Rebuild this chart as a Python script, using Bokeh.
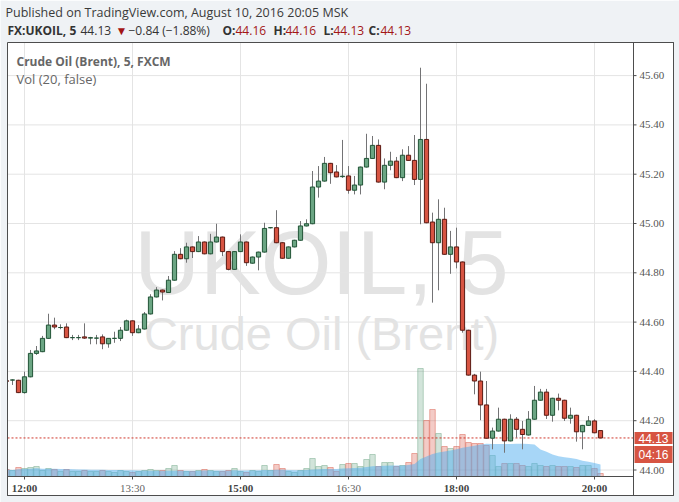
import pandas as pd
from bokeh.plotting import figure
from bokeh.models import ColumnDataSource, Range1d, Label, LabelSet, BoxAnnotation
from bokeh.embed import file_html
from bokeh.resources import INLINE

# ---------------- data (5-minute bars, x = bar number, 12:00 = 0) ----------------
bar_index = list(range(-3, 97))

opens = [44.362, 44.365, 44.364,
         44.314, 44.378, 44.473, 44.480, 44.534, 44.588, 44.578, 44.580, 44.537, 44.537,
         44.540, 44.535, 44.535, 44.540, 44.512, 44.534, 44.534, 44.567, 44.605, 44.557,
         44.572, 44.633, 44.702, 44.730, 44.720, 44.770, 44.875, 44.857, 44.905, 44.886,
         44.925, 44.877, 44.925, 44.945, 44.886, 44.814, 44.886, 44.925, 44.839, 44.864,
         44.884, 44.983, 44.983, 44.922, 44.859, 44.905, 44.932, 44.990, 44.999, 45.148,
         45.172, 45.244, 45.209, 45.190, 45.193, 45.135, 45.156, 45.229, 45.264, 45.317,
         45.168, 45.236, 45.253, 45.186, 45.277, 45.256, 45.179, 45.341, 45.006, 44.922,
         45.017, 44.875, 44.905, 44.844, 44.567, 44.385, 44.361, 44.264, 44.129, 44.158,
         44.206, 44.118, 44.206, 44.165, 44.142, 44.206, 44.283, 44.316, 44.222, 44.291,
         44.283, 44.210, 44.222, 44.155, 44.181, 44.199, 44.160]

highs = [44.365, 44.368, 44.366,
         44.399, 44.487, 44.503, 44.544, 44.634, 44.618, 44.591, 44.595, 44.548, 44.548,
         44.595, 44.540, 44.548, 44.550, 44.534, 44.561, 44.580, 44.610, 44.607, 44.588,
         44.641, 44.713, 44.742, 44.732, 44.787, 44.888, 44.900, 44.922, 44.907, 44.949,
         44.927, 44.958, 44.999, 44.947, 44.888, 44.888, 44.956, 44.927, 44.866, 44.886,
         45.003, 44.985, 45.054, 44.924, 44.907, 44.934, 45.010, 45.017, 45.213, 45.233,
         45.270, 45.246, 45.237, 45.339, 45.233, 45.193, 45.231, 45.364, 45.355, 45.341,
         45.264, 45.291, 45.270, 45.301, 45.314, 45.359, 45.632, 45.567, 45.044, 45.098,
         45.064, 44.970, 44.983, 44.846, 44.569, 44.390, 44.399, 44.361, 44.172, 44.253,
         44.208, 44.226, 44.215, 44.199, 44.239, 44.341, 44.329, 44.329, 44.293, 44.310,
         44.285, 44.253, 44.224, 44.183, 44.219, 44.206, 44.160]

lows = [44.355, 44.345, 44.312,
        44.310, 44.376, 44.467, 44.478, 44.532, 44.571, 44.571, 44.535, 44.527, 44.527,
        44.532, 44.510, 44.510, 44.490, 44.496, 44.516, 44.523, 44.565, 44.544, 44.555,
        44.570, 44.631, 44.700, 44.688, 44.718, 44.768, 44.855, 44.841, 44.860, 44.884,
        44.875, 44.875, 44.923, 44.868, 44.810, 44.812, 44.884, 44.828, 44.837, 44.810,
        44.882, 44.980, 44.920, 44.857, 44.857, 44.903, 44.930, 44.988, 44.997, 45.105,
        45.170, 45.161, 45.187, 45.185, 45.121, 45.118, 45.118, 45.227, 45.262, 45.166,
        45.139, 45.216, 45.184, 45.172, 45.254, 45.156, 44.997, 45.001, 44.679, 44.729,
        44.873, 44.796, 44.818, 44.557, 44.383, 44.307, 44.202, 44.127, 44.084, 44.156,
        44.070, 44.116, 44.131, 44.084, 44.140, 44.204, 44.281, 44.207, 44.196, 44.242,
        44.199, 44.188, 44.115, 44.084, 44.179, 44.149, 44.130]

closes = [44.360, 44.365, 44.314,
          44.378, 44.473, 44.483, 44.534, 44.588, 44.580, 44.578, 44.537, 44.537, 44.537,
          44.535, 44.537, 44.535, 44.512, 44.534, 44.534, 44.567, 44.605, 44.557, 44.572,
          44.633, 44.702, 44.730, 44.722, 44.770, 44.875, 44.857, 44.905, 44.886, 44.925,
          44.877, 44.925, 44.945, 44.886, 44.814, 44.886, 44.925, 44.841, 44.864, 44.884,
          44.980, 44.983, 44.922, 44.859, 44.905, 44.932, 44.990, 44.999, 45.148, 45.172,
          45.244, 45.206, 45.189, 45.192, 45.135, 45.156, 45.229, 45.264, 45.317, 45.168,
          45.236, 45.253, 45.186, 45.277, 45.256, 45.179, 45.341, 45.003, 44.922, 45.017,
          44.875, 44.905, 44.844, 44.567, 44.385, 44.361, 44.264, 44.129, 44.158, 44.206,
          44.118, 44.206, 44.165, 44.144, 44.206, 44.283, 44.316, 44.222, 44.291, 44.283,
          44.210, 44.222, 44.155, 44.181, 44.199, 44.151, 44.130]

volumes = [7, 6, 9,
           8, 9, 10, 6, 8, 7, 5, 7, 5, 5,
           6, 5, 5, 6, 5, 4, 6, 5, 4, 5,
           6, 7, 6, 6, 8, 11, 6, 5, 5, 6,
           7, 6, 5, 5, 6, 8, 5, 4, 6, 5,
           11, 6, 12, 8, 5, 4, 6, 8, 18, 10,
           11, 9, 5, 12, 13, 13, 10, 17, 22, 10,
           14, 14, 10, 11, 14, 23, 108, 56, 67, 43,
           30, 28, 30, 42, 34, 33, 33, 31, 21, 10,
           13, 13, 13, 11, 10, 13, 11, 10, 11, 10,
           10, 10, 9, 11, 11, 8, 3]

vol_ma_length = 20

time_tick_index = [0, 18, 36, 54, 72, 95]
time_tick_labels = ["12:00", "13:30", "15:00", "16:30", "18:00", "20:00"]
price_ticks = [44.0, 44.2, 44.4, 44.6, 44.8, 45.0, 45.2, 45.4, 45.6]
last_price = 44.13
countdown = "04:16"

# ---------------- page geometry (pixels) and pixel -> data mapping ----------------
W, H = 679, 502
BAR0_PX, BAR_PX = 24.0, 6.0          # x pixel of bar 0, pixels per bar
P44_PX, PRICE_PX = 469.5, 246.5      # y pixel of price 44.00, pixels per 1.00
VOL0_PX = 476.0                      # y pixel of zero volume
PANE_L, PANE_T, PANE_R, PANE_B = 7, 42, 673, 495
CHART_R, CHART_B = 633, 476
BG = "#eff2f5"
EDGE = "#4d4d4d"
GRID = "#e4e4e4"


def bx(px):
    return (px - BAR0_PX) / BAR_PX


def py(px):
    return 44.0 + (P44_PX - px) / PRICE_PX


def sy(px):  # screen units are measured upward from the bottom of the canvas
    return H - px


# ---------------- derived table ----------------
df = pd.DataFrame({"x": bar_index, "open": opens, "high": highs, "low": lows,
                   "close": closes, "vol": volumes})
up = df["close"] >= df["open"]
df["top"] = df[["open", "close"]].max(axis=1)
df["bottom"] = df[["open", "close"]].min(axis=1)
df["fill"] = ["#6BA583" if u else "#D75442" for u in up]
df["edge"] = ["#225437" if u else "#5B1A13" for u in up]
df["vma"] = df["vol"].rolling(vol_ma_length, min_periods=1).mean()
src = ColumnDataSource(df)

xt_src = ColumnDataSource(dict(
    x=time_tick_index, label=time_tick_labels,
    style=["bold" if t.endswith(":00") else "normal" for t in time_tick_labels],
    color=["#444444" if t.endswith(":00") else "#666666" for t in time_tick_labels]))
yt_src = ColumnDataSource(dict(y=price_ticks, label=[f"{v:.2f}" for v in price_ticks]))

# ---------------- figure: the frame is the whole canvas ----------------
p = figure(width=W, height=H, output_backend="svg", toolbar_location=None, title=None,
           x_range=Range1d(bx(0), bx(W)), y_range=Range1d(py(H), py(0)),
           x_axis_location=None, y_axis_location=None,
           min_border=0, min_border_left=0, min_border_right=0,
           min_border_top=0, min_border_bottom=0)
p.extra_y_ranges = {"vol": Range1d(VOL0_PX - H, VOL0_PX)}
p.grid.visible = False
p.outline_line_color = None
p.background_fill_color = "white"
p.border_fill_color = BG

# watermark (behind everything)
p.add_layout(Label(x=321, y=sy(262), x_units="screen", y_units="screen", text="UKOIL, 5",
                   text_font="Liberation Sans", text_font_size="91px", text_color="#e3e3e3",
                   text_align="center", text_baseline="alphabetic", level="underlay"))
p.add_layout(Label(x=321, y=sy(333), x_units="screen", y_units="screen",
                   text="Crude Oil (Brent)",
                   text_font="Liberation Sans", text_font_size="47px", text_color="#e3e3e3",
                   text_align="center", text_baseline="alphabetic", level="underlay"))

# grid lines (chart area only)
p.segment(x0="x", y0=py(CHART_B), x1="x", y1=py(PANE_T), source=xt_src,
          line_color=GRID, line_width=1)
p.segment(x0=bx(PANE_L), y0="y", x1=bx(CHART_R), y1="y", source=yt_src,
          line_color=GRID, line_width=1)

# volume + its 20-bar average (area)
p.vbar(x="x", top="vol", bottom=0, width=0.92, source=src, y_range_name="vol",
       fill_color="fill", fill_alpha=0.3, line_color="fill", line_alpha=0.45, line_width=1)
p.varea(x="x", y1=0, y2="vma", source=src, y_range_name="vol",
        fill_color="#4FAEEF", fill_alpha=0.5)

# last price line
p.segment(x0=[bx(PANE_L)], y0=[last_price], x1=[bx(CHART_R)], y1=[last_price],
          line_color="#d0362b", line_dash="2 2", line_width=1)

# candles
p.segment(x0="x", y0="low", x1="x", y1="high", source=src, line_color="#737375", line_width=1)
p.vbar(x="x", top="top", bottom="bottom", width=0.7, source=src,
       fill_color="fill", line_color="edge", line_width=1)

# axis tick marks
p.segment(x0=bx(CHART_R), y0="y", x1=bx(CHART_R + 3), y1="y", source=yt_src,
          line_color=EDGE, line_width=1)
p.segment(x0="x", y0=py(CHART_B), x1="x", y1=py(CHART_B + 3), source=xt_src,
          line_color=EDGE, line_width=1)

# page background outside the pane
for l, r, t, b in [(0, W, 0, PANE_T), (0, PANE_L, 0, H), (PANE_R, W, 0, H), (0, W, PANE_B, H)]:
    p.add_layout(BoxAnnotation(left=bx(l), right=bx(r), top=py(t), bottom=py(b),
                               fill_color=BG, fill_alpha=1, line_alpha=0))
# pane border and scale separators
for l, r, t, b in [(PANE_L, PANE_R, PANE_T, PANE_B), (CHART_R, PANE_R, PANE_T, PANE_B),
                   (PANE_L, CHART_R, CHART_B, PANE_B)]:
    p.add_layout(BoxAnnotation(left=bx(l), right=bx(r), top=py(t), bottom=py(b),
                               fill_alpha=0, line_color=EDGE, line_alpha=1, line_width=1))

# scale labels
p.add_layout(LabelSet(x=CHART_R + 6, y="y", x_units="screen", text="label", source=yt_src,
                      text_font="Liberation Sans", text_font_size="11px",
                      text_color="#555555", text_baseline="middle", text_align="left"))
p.add_layout(LabelSet(x="x", y=sy(487), y_units="screen", text="label", source=xt_src,
                      text_font="Liberation Sans", text_font_size="11px",
                      text_font_style="style", text_color="color",
                      text_baseline="middle", text_align="center"))

# last price and countdown boxes on the price scale
for txt, yv, yu in [("44.13", last_price, "data"), (countdown, sy(454), "screen")]:
    p.add_layout(Label(x=CHART_R + 1, y=yv, x_units="screen", y_units=yu, text=txt,
                       text_font="Liberation Sans", text_font_size="12px",
                       text_color="white", text_baseline="middle", text_align="left",
                       background_fill_color="#D75442",
                       padding=dict(left=4, right=4, top=2, bottom=1)))

# legend inside the pane
p.add_layout(Label(x=16, y=sy(61), x_units="screen", y_units="screen",
                   text="Crude Oil (Brent), 5, FXCM", text_font="Open Sans",
                   text_font_size="12px", text_font_style="bold", text_color="#666666",
                   text_baseline="middle"))
p.add_layout(Label(x=16, y=sy(78), x_units="screen", y_units="screen",
                   text="Vol (20, false)", text_font="Open Sans",
                   text_font_size="13px", text_color="#666666", text_baseline="middle"))

# header
p.add_layout(Label(x=5, y=sy(12), x_units="screen", y_units="screen",
                   text="Published on TradingView.com, August 10, 2016 20:05 MSK",
                   text_font="Open Sans", text_font_size="12.5px", text_color="#3a3a3a",
                   text_baseline="middle"))
RED = "#a31515"
hdr = [("FX:UKOIL, 5", 7, "bold", "#333333"),
       ("44.13", 80, "normal", "#333333"),
       ("\u25BC", 115, "normal", RED),
       ("\u22120.84 (\u22121.88%)", 128, "normal", "#333333"),
       ("O:", 222, "bold", "#333333"), ("44.16", 235, "normal", RED),
       ("H:", 273, "bold", "#333333"), ("44.16", 285, "normal", RED),
       ("L:", 323, "bold", "#333333"), ("44.13", 333, "normal", RED),
       ("C:", 368, "bold", "#333333"), ("44.13", 380, "normal", RED)]
for txt, xx, st, col in hdr:
    p.add_layout(Label(x=xx, y=sy(30), x_units="screen", y_units="screen", text=txt,
                       text_font="Open Sans", text_font_size="12px", text_font_style=st,
                       text_color=col, text_baseline="middle"))

open("out.html", "w").write(file_html(p, INLINE))
